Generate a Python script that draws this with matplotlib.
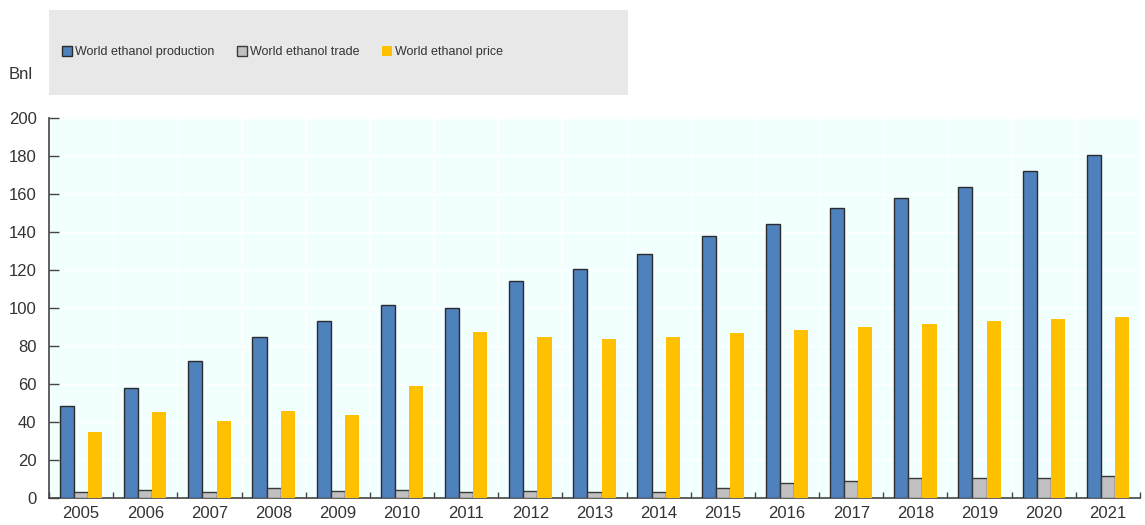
import numpy as np
import matplotlib.pyplot as plt
from matplotlib.patches import Rectangle

years = [str(y) for y in range(2005, 2022)]
production = [48.6, 58, 72, 85, 93, 101.6, 100, 114, 120.5, 128.5, 138,
              144.2, 152.5, 157.7, 163.5, 171.9, 180.4]
trade = [3.3, 4.4, 3.3, 5.5, 3.5, 4.4, 3.4, 3.6, 3.4, 3.4, 5.4,
         7.7, 8.8, 10.4, 10.4, 10.4, 11.8]
price = [34.6, 45.1, 40.4, 45.6, 43.9, 58.9, 87.5, 85, 83.5, 85, 87,
         88.4, 89.8, 91.8, 93.2, 94.4, 95.1]

plt.rcParams['font.family'] = ['Liberation Sans', 'DejaVu Sans']
text_col = '#333333'

fig = plt.figure(figsize=(11.45, 5.25), dpi=100)
ax = fig.add_axes([49 / 1145, 27 / 525, 1091 / 1145, 380 / 525])
ax.set_facecolor('#F2FFFF')

x = np.arange(len(years))
w = 0.22
b1 = ax.bar(x - w, production, w, color='#4F81BD', edgecolor='#2b2b2b', linewidth=1, zorder=3,
            label='World ethanol production')
b2 = ax.bar(x, trade, w, color='#C0C0C0', edgecolor='#3a3a3a', linewidth=1, zorder=3,
            label='World ethanol trade')
b3 = ax.bar(x + w, price, w, color='#FFC000', linewidth=0, zorder=3,
            label='World ethanol price')

ax.set_xlim(-0.5, len(years) - 0.5)
ax.set_ylim(0, 200)
ax.set_yticks(range(0, 201, 20))
ax.set_xticks(x)
ax.set_xticklabels(years)
ax.set_xticks(np.arange(-0.5, len(years), 1), minor=True)

ax.grid(True, which='major', axis='y', color='white', linewidth=1, zorder=1)
ax.grid(True, which='minor', axis='x', color='white', linewidth=1, zorder=1)

for s in ['top', 'right']:
    ax.spines[s].set_visible(False)
for s in ['left', 'bottom']:
    ax.spines[s].set_color('#444444')
    ax.spines[s].set_linewidth(1.2)

ax.tick_params(axis='y', direction='in', length=7, width=1, color='#444444',
               labelsize=12, labelcolor=text_col, pad=9)
ax.tick_params(axis='x', which='major', length=0, labelsize=12, labelcolor=text_col, pad=6)
ax.tick_params(axis='x', which='minor', direction='in', length=4, width=1, color='#444444')

fig.text(33 / 1145, 1 - 75 / 525, 'Bnl', ha='right', va='center', fontsize=12, color=text_col)

# legend box
fig.patches.append(Rectangle((49 / 1145, 1 - 95 / 525), 579 / 1145, 85 / 525,
                             transform=fig.transFigure, facecolor='#E8E8E8',
                             edgecolor='none', zorder=0))
fig.legend(handles=[b1, b2, b3], loc='center left', bbox_to_anchor=(51 / 1145, 1 - 52 / 525),
           ncol=3, frameon=False, handlelength=0.8, handleheight=0.8,
           handletextpad=0.2, columnspacing=1.85, labelcolor=text_col,
           prop={'size': 9.0})

fig.savefig('out.png', dpi=100)
